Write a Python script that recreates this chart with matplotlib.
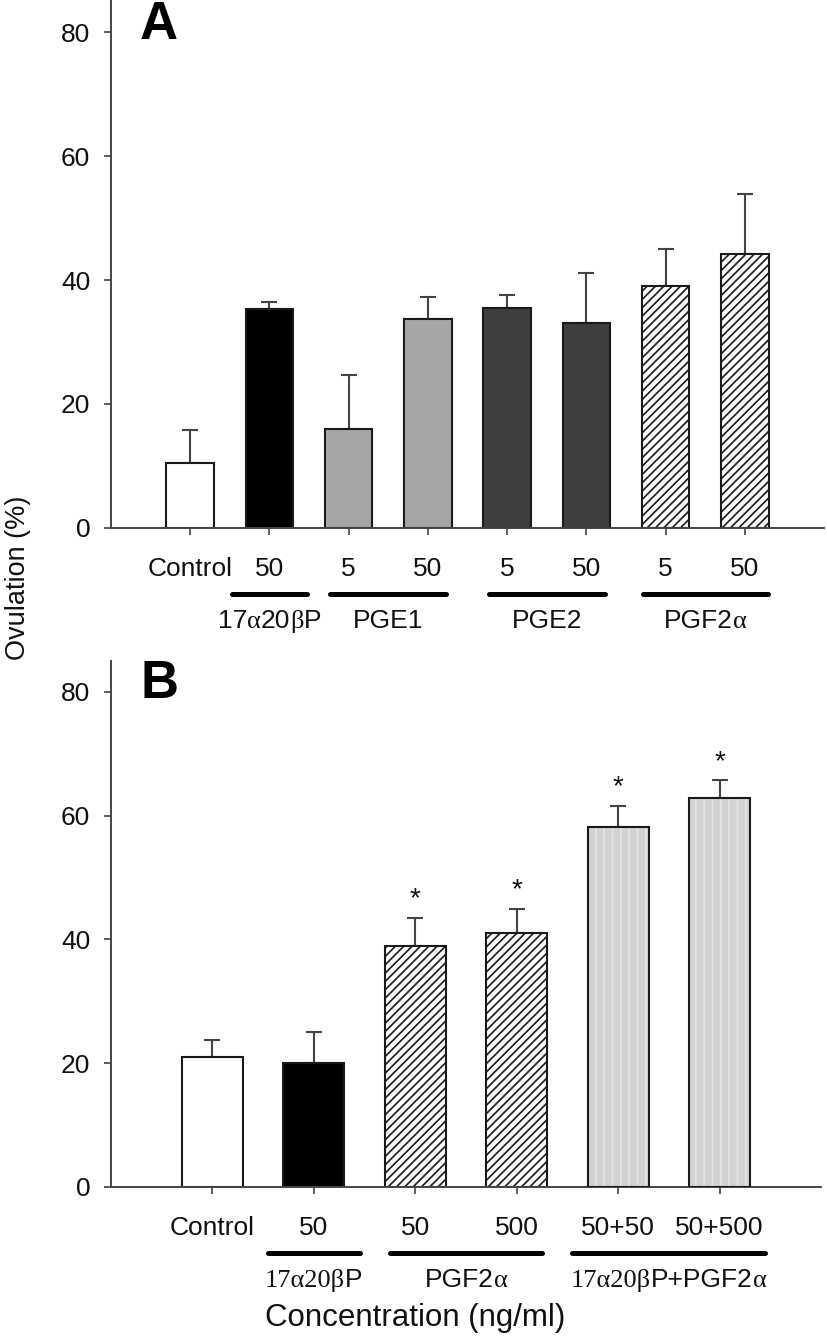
import matplotlib
matplotlib.use("Agg")
import matplotlib.pyplot as plt
import numpy as np
from matplotlib.offsetbox import TextArea, HPacker, AnnotationBbox

plt.rcParams['font.family'] = ['Liberation Sans', 'DejaVu Sans']
plt.rcParams['hatch.linewidth'] = 1.2

# ---- data ----
# panel A
labels_a = ["Control", "50", "5", "50", "5", "50", "5", "50"]
ovulation_a = [10.5, 35.3, 15.9, 33.7, 35.5, 33.1, 39.1, 44.2]
sem_a = [5.3, 1.1, 8.7, 3.5, 2.1, 8.1, 5.9, 9.6]
groups_a = ["17α20βP", "PGE1", "PGE2", "PGF2α"]
members_a = [[1], [2, 3], [4, 5], [6, 7]]

# panel B
labels_b = ["Control", "50", "50", "500", "50+50", "50+500"]
ovulation_b = [21.0, 20.1, 38.9, 41.0, 58.2, 62.8]
sem_b = [2.7, 4.9, 4.6, 4.0, 3.4, 2.9]
signif_b = [False, False, True, True, True, True]
groups_b = ["17α20βP", "PGF2α", "17α20βP+PGF2α"]
members_b = [[1], [2, 3], [4, 5]]

# bar styles (fill, hatch)
style_a = [("white", None), ("black", None), ("#a6a6a6", None), ("#a6a6a6", None),
           ("#3e3e3e", None), ("#3e3e3e", None), ("white", "////"), ("white", "////")]
style_b = [("white", None), ("black", None), ("white", "////"), ("white", "////"),
           ("#d2d2d2", "stripe"), ("#d2d2d2", "stripe")]
line_half_a = [0.47, 0.73, 0.73, 0.79]
line_half_b = [0.45, 0.75, 0.95]

FS = 19
EDGE = "#1a1a1a"
AXC = "#444444"


def label_box(text, serif_head, size):
    # greek letters (and optionally the steroid prefix) in a serif face
    runs = []
    head_end = text.find("β") + 1 if serif_head else 0
    for i, ch in enumerate(text):
        fam = 'Liberation Serif' if (i < head_end or ch in "αβ") else 'Liberation Sans'
        if runs and runs[-1][1] == fam:
            runs[-1][0] += ch
        else:
            runs.append([ch, fam])
    kids = [TextArea(t, textprops=dict(fontsize=size, family=f, color="#111111")) for t, f in runs]
    return HPacker(children=kids, align="baseline", pad=0, sep=0)


def draw_panel(ax, labels, vals, errs, styles, groups, members, halves, ax_h_px,
               serif_head, stars=None):
    x = np.arange(len(vals))
    ax.errorbar(x, vals, yerr=[np.zeros(len(vals)), errs], fmt='none', ecolor=AXC,
                elinewidth=1.5, capsize=5.7, capthick=1.5, zorder=1)
    for xi, v, (fc, h) in zip(x, vals, styles):
        if h == "stripe":
            ax.bar(xi, v, width=0.6, color=fc, edgecolor="#e4e4e4", linewidth=0,
                   hatch="||", zorder=2)
            ax.bar(xi, v, width=0.6, facecolor="none", edgecolor=EDGE, linewidth=1.5, zorder=3)
        else:
            ax.bar(xi, v, width=0.6, color=fc, edgecolor=EDGE, linewidth=1.5,
                   hatch=h, zorder=2)
    if stars is not None:
        for xi, v, e, s in zip(x, vals, errs, stars):
            if s:
                ax.text(xi, v + e + 3.0, "*", ha='center', va='center', fontsize=20,
                        color="#111111")
    ax.set_xlim(-1, 8 if len(vals) == 8 else 6)
    ax.set_ylim(0, 85)
    ax.set_yticks([0, 20, 40, 60, 80])
    ax.set_xticks(x)
    ax.set_xticklabels(labels)
    for side in ['top', 'right']:
        ax.spines[side].set_visible(False)
    for side in ['left', 'bottom']:
        ax.spines[side].set_color(AXC)
        ax.spines[side].set_linewidth(1.4)
    ax.tick_params(axis='both', direction='out', length=5, width=1.2, color=AXC,
                   labelsize=FS, labelcolor="#111111")
    ax.tick_params(axis='x', pad=16)
    ax.tick_params(axis='y', pad=10)

    trans = ax.get_xaxis_transform()
    for name, mem, hw in zip(groups, members, halves):
        c = np.mean(mem)
        ax.plot([c - hw, c + hw], [-66 / ax_h_px] * 2, transform=trans, color="black",
                lw=3.6, solid_capstyle='round', clip_on=False)
        ab = AnnotationBbox(label_box(name, serif_head, FS), (c, 0), xycoords=trans,
                            xybox=(0, -93 * 0.72), boxcoords="offset points",
                            box_alignment=(0.5, 0.5), frameon=False, annotation_clip=False)
        ax.add_artist(ab)


fig = plt.figure(figsize=(8.27, 13.44), dpi=100)
W, H = 827.0, 1344.0
ax_a = fig.add_axes([111 / W, 1 - 528 / H, 713 / W, 527 / H])
ax_b = fig.add_axes([111 / W, 1 - 1187 / H, 710 / W, 526 / H])

draw_panel(ax_a, labels_a, ovulation_a, sem_a, style_a, groups_a, members_a,
           line_half_a, 527, False)
draw_panel(ax_b, labels_b, ovulation_b, sem_b, style_b, groups_b, members_b,
           line_half_b, 526, True, stars=signif_b)

fig.text(140 / W, 1 - 25 / H, "A", fontsize=38, fontweight='bold', ha='left', va='center')
fig.text(140 / W, 1 - 684 / H, "B", fontsize=38, fontweight='bold', ha='left', va='center')
fig.text(18 / W, 1 - 578 / H, "Ovulation (%)", fontsize=19.5, rotation=90,
         ha='center', va='center', color="#111111")
fig.text(415 / W, 1 - 1318 / H, "Concentration (ng/ml)", fontsize=22.5,
         ha='center', va='center', color="#111111")

fig.savefig("out.png", dpi=100)
